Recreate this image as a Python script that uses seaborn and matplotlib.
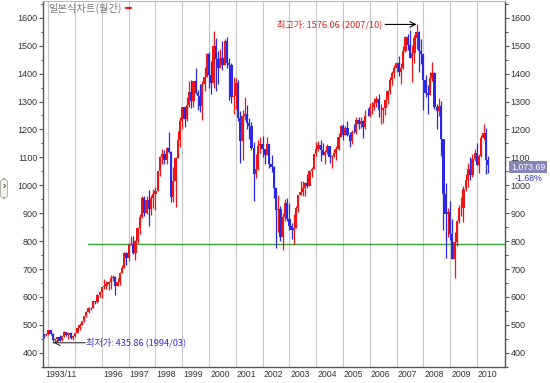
import numpy as np
import pandas as pd
import matplotlib
matplotlib.use('Agg')
import matplotlib.pyplot as plt
import matplotlib.transforms as mtransforms
from matplotlib.lines import Line2D
from matplotlib.patches import FancyBboxPatch
from matplotlib.ticker import MultipleLocator
import seaborn as sns

# monthly candles, 1993/11 .. 2010/06
first_month = '1993-11-01'

open_ = [467.8, 461.9,
         466.5, 481.6, 467.2, 445.7, 450.9, 456.5, 444.3, 458.3, 475.5, 462.7, 472.4, 453.7,
         459.3, 470.4, 487.4, 500.7, 514.7, 533.4, 544.8, 562.1, 561.9, 584.4, 581.5, 605.4,
         615.9, 636.0, 640.4, 645.5, 654.2, 669.1, 670.6, 640.0, 652.0, 687.3, 705.3, 757.0,
         740.7, 786.2, 790.8, 757.1, 801.3, 848.3, 885.1, 954.3, 899.5, 947.3, 914.6, 955.4,
         970.4, 980.3, 1049.3, 1101.8, 1111.8, 1090.8, 1133.8, 1120.7, 957.3, 1017.0, 1098.7, 1163.6,
         1229.2, 1279.6, 1238.3, 1286.4, 1335.2, 1301.8, 1372.7, 1328.7, 1320.4, 1282.7, 1362.9, 1388.9,
         1469.3, 1394.5, 1366.4, 1498.6, 1452.4, 1420.6, 1454.6, 1430.8, 1517.7, 1436.5, 1429.4, 1315.0,
         1320.3, 1366.0, 1239.9, 1160.3, 1249.5, 1255.8, 1224.4, 1211.2, 1133.6, 1040.9, 1059.8, 1139.5,
         1148.1, 1130.2, 1106.7, 1147.4, 1076.9, 1067.1, 989.8, 911.6, 916.1, 815.3, 885.8, 936.3,
         879.8, 855.7, 841.2, 848.2, 916.9, 963.6, 974.5, 990.3, 1008.0, 996.0, 1050.7, 1058.2,
         1111.9, 1131.1, 1144.9, 1126.2, 1107.3, 1120.7, 1140.8, 1101.7, 1104.2, 1114.6, 1130.2, 1173.8,
         1211.9, 1181.3, 1203.6, 1180.6, 1156.9, 1191.5, 1191.3, 1234.2, 1220.3, 1228.8, 1207.0, 1249.5,
         1248.3, 1280.1, 1280.7, 1294.8, 1310.6, 1270.1, 1270.2, 1276.7, 1303.8, 1335.9, 1377.9, 1400.6,
         1418.3, 1438.2, 1406.8, 1420.9, 1482.4, 1530.6, 1503.4, 1455.3, 1474.0, 1526.8, 1549.4, 1481.1,
         1468.4, 1378.6, 1330.6, 1322.7, 1385.6, 1400.4, 1280.0, 1267.4, 1282.8, 1166.4, 968.8, 896.2,
         903.3, 825.9, 735.1, 797.9, 872.8, 919.1, 919.3, 987.5, 1020.6, 1057.1, 1036.2, 1095.6,
         1115.1, 1073.9, 1104.5, 1169.4, 1186.7, 1089.4]

high = [468.6, 471.1,
        482.9, 482.2, 471.1, 453.0, 458.0, 462.1, 459.5, 477.1, 476.0, 474.7, 474.2, 465.0,
        471.4, 489.2, 507.0, 515.3, 533.4, 551.1, 563.8, 564.3, 586.1, 587.1, 609.2, 622.9,
        636.2, 664.2, 656.1, 657.0, 680.3, 680.3, 675.9, 668.6, 690.9, 714.1, 762.1, 761.8,
        794.7, 818.0, 817.6, 804.1, 850.6, 898.7, 962.6, 961.3, 960.3, 983.1, 965.7, 988.0,
        992.7, 1051.4, 1105.7, 1130.5, 1126.9, 1138.6, 1190.6, 1121.2, 1066.1, 1100.6, 1192.7, 1244.9,
        1280.5, 1281.2, 1316.7, 1372.4, 1376.4, 1374.4, 1421.0, 1340.0, 1361.4, 1373.0, 1422.3, 1473.9,
        1478.0, 1444.6, 1552.9, 1527.2, 1481.5, 1488.9, 1517.3, 1525.2, 1530.1, 1454.8, 1438.5, 1389.1,
        1383.4, 1376.4, 1267.4, 1269.3, 1315.9, 1286.6, 1239.8, 1226.3, 1155.4, 1110.6, 1163.4, 1173.0,
        1176.6, 1130.2, 1173.9, 1147.8, 1106.6, 1070.0, 994.5, 965.0, 924.0, 900.1, 951.6, 954.3,
        935.1, 864.6, 895.9, 924.2, 965.4, 1015.3, 1015.4, 1011.0, 1040.3, 1053.8, 1063.7, 1112.6,
        1155.4, 1158.9, 1163.2, 1150.6, 1127.7, 1146.3, 1140.8, 1109.7, 1131.5, 1142.1, 1188.5, 1217.3,
        1217.8, 1212.4, 1229.1, 1192.0, 1199.6, 1219.6, 1246.0, 1245.9, 1243.1, 1233.3, 1270.6, 1275.8,
        1294.9, 1297.6, 1310.9, 1318.2, 1326.7, 1290.7, 1280.4, 1306.7, 1340.3, 1389.5, 1407.9, 1431.8,
        1441.6, 1461.6, 1438.9, 1498.0, 1535.6, 1540.6, 1555.9, 1503.9, 1538.7, 1576.06, 1552.8, 1523.6,
        1471.8, 1396.0, 1359.7, 1404.6, 1440.2, 1404.1, 1292.2, 1313.2, 1303.0, 1167.0, 1007.5, 918.9,
        943.9, 877.9, 832.0, 875.6, 930.2, 956.2, 996.7, 1039.5, 1080.2, 1101.4, 1113.7, 1130.4,
        1150.5, 1112.4, 1180.2, 1219.8, 1205.1, 1105.7]

low = [454.4, 460.8,
       464.4, 464.3, 435.86, 438.1, 440.9, 442.9, 443.1, 457.3, 460.5, 449.1, 449.0, 445.6,
       457.2, 469.9, 481.6, 500.2, 511.6, 528.6, 542.8, 553.0, 559.7, 573.7, 577.1, 599.2,
       597.3, 629.7, 627.6, 624.1, 630.1, 656.6, 605.9, 638.4, 643.5, 684.8, 703.8, 714.9,
       729.6, 785.3, 755.1, 733.5, 793.2, 826.0, 882.6, 891.1, 896.4, 855.3, 892.8, 919.5,
       912.8, 979.4, 1032.1, 1076.7, 1074.4, 1074.9, 1114.3, 939.9, 939.9, 923.3, 1096.8, 1136.9,
       1203.1, 1208.0, 1228.8, 1281.6, 1277.4, 1281.4, 1328.0, 1268.4, 1263.6, 1233.7, 1338.1, 1387.4,
       1350.1, 1325.1, 1346.6, 1339.4, 1361.1, 1420.6, 1413.9, 1430.8, 1419.4, 1305.8, 1294.9, 1254.1,
       1274.6, 1228.4, 1081.2, 1091.9, 1232.0, 1203.0, 1165.5, 1124.9, 944.8, 1026.8, 1054.3, 1114.9,
       1101.2, 1074.4, 1106.7, 1063.5, 1048.4, 952.9, 775.7, 833.4, 800.2, 768.6, 872.7, 871.8,
       840.3, 806.3, 788.9, 847.9, 902.8, 963.6, 962.1, 960.8, 990.4, 996.0, 1031.2, 1058.2,
       1105.1, 1124.4, 1087.2, 1107.2, 1076.3, 1113.3, 1078.8, 1060.7, 1101.3, 1090.2, 1127.6, 1173.8,
       1163.8, 1180.0, 1176.9, 1136.2, 1146.2, 1188.3, 1183.6, 1201.1, 1205.4, 1168.2, 1201.1, 1246.6,
       1245.7, 1253.6, 1268.4, 1280.7, 1245.3, 1219.3, 1224.5, 1253.4, 1290.9, 1327.1, 1360.9, 1385.9,
       1403.9, 1389.7, 1363.9, 1416.4, 1476.7, 1484.2, 1454.3, 1370.6, 1439.3, 1489.6, 1406.1, 1435.7,
       1270.1, 1316.8, 1256.9, 1322.0, 1373.1, 1272.0, 1200.4, 1247.5, 1106.4, 839.8, 741.0, 815.7,
       804.2, 734.5, 666.8, 783.9, 866.1, 888.9, 869.3, 978.5, 992.3, 1019.0, 1029.4, 1085.9,
       1071.6, 1044.5, 1101.4, 1163.0, 1040.8, 1042.2]

close = [461.8, 466.5,
         481.6, 467.1, 445.8, 450.9, 456.5, 444.3, 458.3, 475.5, 462.7, 472.4, 453.7, 459.3,
         470.4, 487.4, 500.7, 514.7, 533.4, 544.8, 562.1, 561.9, 584.4, 581.5, 605.4, 615.9,
         636.0, 640.4, 645.5, 654.2, 669.1, 670.6, 640.0, 652.0, 687.3, 705.3, 757.0, 740.7,
         786.2, 790.8, 757.1, 801.3, 848.3, 885.1, 954.3, 899.5, 947.3, 914.6, 955.4, 970.4,
         980.3, 1049.3, 1101.8, 1111.8, 1090.8, 1133.8, 1120.7, 957.3, 1017.0, 1098.7, 1163.6, 1229.2,
         1279.6, 1238.3, 1286.4, 1335.2, 1301.8, 1372.7, 1328.7, 1320.4, 1282.7, 1362.9, 1388.9, 1469.3,
         1394.5, 1366.4, 1498.6, 1452.4, 1420.6, 1454.6, 1430.8, 1517.7, 1436.5, 1429.4, 1315.0, 1320.3,
         1366.0, 1239.9, 1160.3, 1249.5, 1255.8, 1224.4, 1211.2, 1133.6, 1040.9, 1059.8, 1139.5, 1148.1,
         1130.2, 1106.7, 1147.4, 1076.9, 1067.1, 989.8, 911.6, 916.1, 815.3, 885.8, 936.3, 879.8,
         855.7, 841.2, 848.2, 916.9, 963.6, 974.5, 990.3, 1008.0, 996.0, 1050.7, 1058.2, 1111.9,
         1131.1, 1144.9, 1126.2, 1107.3, 1120.7, 1140.8, 1101.7, 1104.2, 1114.6, 1130.2, 1173.8, 1211.9,
         1181.3, 1203.6, 1180.6, 1156.9, 1191.5, 1191.3, 1234.2, 1220.3, 1228.8, 1207.0, 1249.5, 1248.3,
         1280.1, 1280.7, 1294.8, 1310.6, 1270.1, 1270.2, 1276.7, 1303.8, 1335.9, 1377.9, 1400.6, 1418.3,
         1438.2, 1406.8, 1420.9, 1482.4, 1530.6, 1503.4, 1455.3, 1474.0, 1526.8, 1549.4, 1481.1, 1468.4,
         1378.6, 1330.6, 1322.7, 1385.6, 1400.4, 1280.0, 1267.4, 1282.8, 1166.4, 968.8, 896.2, 903.3,
         825.9, 735.1, 797.9, 872.8, 919.1, 919.3, 987.5, 1020.6, 1057.1, 1036.2, 1095.6, 1115.1,
         1073.9, 1104.5, 1169.4, 1186.7, 1089.4, 1073.69]

# green support line
support_x = [1995.49, 2008.45, 2008.45, 2011.05]
support_y = [788, 788, 791, 791]

year_labels = ['1993/11'] + [str(y) for y in range(1996, 2011)]
year_label_pos = [1993 + 10 / 12] + list(range(1996, 2011))
grid_years = list(range(1994, 2011))

high_point = (2007 + 9 / 12, 1576.06)
low_point = (1994 + 2 / 12, 435.86)
last_close = 1073.69
last_change = '-1.68%'

RED = '#f01414'
BLUE = '#2a2ae6'

sns.set_style('white')
plt.rcParams['font.family'] = ['Liberation Sans', 'Noto Sans CJK KR', 'DejaVu Sans']
KR = ['Noto Sans CJK KR', 'DejaVu Sans']

df = pd.DataFrame({'open': open_, 'high': high, 'low': low, 'close': close})
df['date'] = pd.date_range(first_month, periods=len(df), freq='MS')
df['x'] = df['date'].dt.year + (df['date'].dt.month - 1) / 12
df['color'] = np.where(df['close'] >= df['open'], RED, BLUE)

fig = plt.figure(figsize=(5.5, 3.83), dpi=100)
ax = fig.add_axes([43 / 550, 16 / 383, 462 / 550, 366 / 383])

# candles
ax.vlines(df['x'], df['low'], df['high'], colors=df['color'], lw=0.9, zorder=3)
ax.bar(df['x'], df['close'] - df['open'], bottom=df['open'], width=0.085,
       color=df['color'], linewidth=0, zorder=4)

sns.lineplot(x=support_x, y=support_y, ax=ax, color='#3f9f3f', lw=1.0,
             sort=False, estimator=None, zorder=2)

ax.set_xlim(1993.80, 2011.05)
ax.set_ylim(349, 1660)

# year grid
ax.set_xticks(grid_years)
ax.set_xticklabels([])
ax.grid(axis='x', color='#c8c8c8', lw=0.8)
ax.grid(axis='y', visible=False)
ax.set_xticks(year_label_pos, minor=True)
ax.tick_params(axis='x', which='major', length=0)
ax.tick_params(axis='x', which='minor', length=11.5, width=0.8, color='#777777', direction='out')
trans = mtransforms.blended_transform_factory(ax.transData, ax.transAxes)
for xp, lab in zip(year_label_pos, year_labels):
    ax.text(xp + 0.04, -0.008, lab, transform=trans, ha='left', va='top',
            fontsize=6.3, color='#333333')

# price axis on both sides
ax.yaxis.set_major_locator(MultipleLocator(100))
ax.yaxis.set_minor_locator(MultipleLocator(50))
ax.tick_params(axis='y', which='both', left=True, right=True,
               labelleft=True, labelright=True, color='#555555',
               labelsize=6.5, labelcolor='#333333', pad=1)
ax.tick_params(axis='y', which='major', length=3, width=0.8)
ax.tick_params(axis='y', which='minor', length=1.8, width=0.8)
ax.set_ylim(349, 1660)

for side in ['left', 'right', 'bottom']:
    ax.spines[side].set_color('#555555')
    ax.spines[side].set_linewidth(1)
ax.spines['top'].set_color('#bbbbbb')
ax.set_xlabel('')
ax.set_ylabel('')

# high / low annotations
ax.annotate('', xy=(high_point[0], high_point[1]), xytext=(2006.58, high_point[1]),
            arrowprops=dict(arrowstyle='->', color='black', lw=0.8,
                            shrinkA=0, shrinkB=0), zorder=6)
ax.text(2006.47, high_point[1], '최고가: 1576.06 (2007/10)', ha='right', va='center',
        fontsize=6.6, color='#e02020', family=KR)
ax.annotate('', xy=(low_point[0] + 0.02, low_point[1]), xytext=(1995.38, low_point[1]),
            arrowprops=dict(arrowstyle='->', color='#333333', lw=0.8,
                            shrinkA=0, shrinkB=0), zorder=6)
ax.text(1995.42, low_point[1], '최저가: 435.86 (1994/03)', ha='left', va='center',
        fontsize=6.6, color='#3030d0', family=KR)

# last price box on the right axis
rtrans = mtransforms.blended_transform_factory(ax.transAxes, ax.transData)
ax.text(1.05, last_close - 8, f'{last_close:,.2f}', transform=rtrans, ha='center',
        va='center', fontsize=6.3, color='white', clip_on=False, zorder=7,
        bbox=dict(boxstyle='square,pad=0.2', fc='#8585bb', ec='none'))
ax.text(1.05, last_close - 48, last_change, transform=rtrans, ha='center',
        va='center', fontsize=6.3, color='#3030d0', clip_on=False)

# chart title
fig.text(48 / 550, 1 - 8 / 383, '일본식차트(월간)', ha='left', va='center',
         fontsize=7.4, color='#7a7a7a', family=KR)
fig.add_artist(Line2D([126 / 550, 131 / 550], [1 - 8 / 383] * 2, color=RED, lw=1.6))

# small side toggle
fig.patches.append(FancyBboxPatch((0.5 / 550, 1 - 198 / 383), 7 / 550, 19 / 383,
                                  boxstyle='round,pad=0,rounding_size=0.008',
                                  transform=fig.transFigure, fc='#eef4e6', ec='#aaaaaa', lw=0.6))
fig.text(4 / 550, 1 - 186 / 383, '›', ha='center', va='center', fontsize=7, color='#222222')

fig.savefig('out.png', dpi=100)
